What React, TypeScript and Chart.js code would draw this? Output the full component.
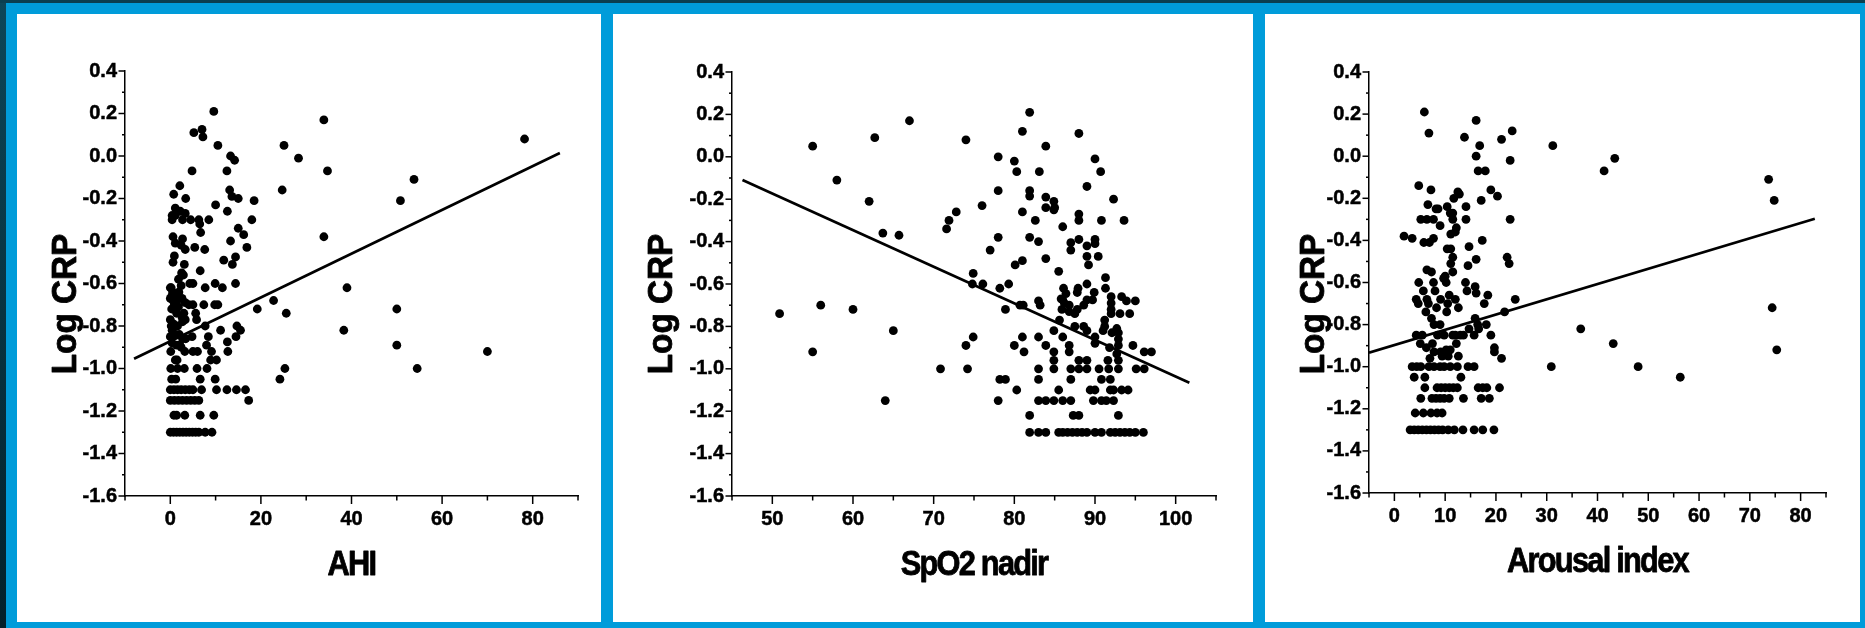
import React, { useEffect, useRef } from "react";
import { Chart, registerables } from "chart.js";

Chart.register(...registerables);

// ---------------- DATA ----------------
const yTitle = "Log CRP";
const yMin = -1.6;
const yMax = 0.4;
const yStep = 0.1;
const yLabelEvery = 0.2;

// Panel 1: AHI vs Log CRP
const ahiTitle = "AHI";
const ahiAxis = { min: -10, max: 90, step: 10, labelEvery: 20 };
const ahiPoints: [number, number][] = [
  [9.6, 0.21], [5.2, 0.11], [7.0, 0.125], [7.2, 0.09], [10.5, 0.05], [13.3, 0.0], [14.2, -0.02],
  [4.8, -0.07], [12.5, -0.07], [33.9, 0.17], [25.1, 0.05], [28.3, -0.01], [34.7, -0.07],
  [78.2, 0.08], [53.8, -0.11], [50.8, -0.21], [24.7, -0.16], [33.9, -0.38], [39.0, -0.62],
  [50.0, -0.72], [38.3, -0.82], [50.0, -0.89], [70.0, -0.92], [54.5, -1.0], [25.3, -1.0],
  [24.2, -1.05], [22.8, -0.68], [25.6, -0.74], [19.2, -0.72], [17.3, -1.15], [16.6, -1.1],
  [14.6, -1.1], [12.5, -1.1], [10.2, -1.1], [6.9, -1.1], [9.6, -1.22], [6.6, -1.22],
  [18.5, -0.21], [18.0, -0.3], [12.6, -0.26], [10.0, -0.23], [13.1, -0.16], [13.6, -0.19],
  [15.0, -0.2], [15.0, -0.34], [16.2, -0.37], [16.9, -0.43], [13.3, -0.4], [14.4, -0.475],
  [13.7, -0.51], [11.8, -0.49], [6.3, -0.3], [6.5, -0.32], [6.7, -0.36], [8.5, -0.3], [4.5, -0.3],
  [5.4, -0.43], [7.6, -0.44], [6.6, -0.54], [4.3, -0.6], [5.0, -0.6], [7.7, -0.62], [9.9, -0.6],
  [11.5, -0.62], [14.4, -0.6], [7.4, -0.7], [9.8, -0.7], [10.5, -0.7], [5.0, -0.7], [5.6, -0.74],
  [5.8, -0.77], [7.7, -0.8], [11.1, -0.82], [14.7, -0.8], [15.5, -0.82], [14.5, -0.85], [8.4, -0.85],
  [8.0, -0.89], [12.6, -0.875], [12.7, -0.92], [4.8, -0.85], [5.0, -0.92], [6.0, -0.92], [9.1, -0.92],
  [8.9, -0.96], [10.2, -0.96], [3.1, -1.0], [5.9, -1.0], [8.1, -1.0], [1.2, -1.05], [6.6, -1.05],
  [9.9, -1.05],
  [2.1, -0.14], [0.75, -0.18], [3.4, -0.2], [1.1, -0.245], [2.2, -0.26], [3.3, -0.27], [0.4, -0.28],
  [1.1, -0.28], [0.4, -0.3], [2.7, -0.3], [0.6, -0.38], [1.1, -0.41], [2.7, -0.39], [2.4, -0.42],
  [3.3, -0.44], [0.9, -0.47], [0.6, -0.5], [3.1, -0.51], [2.5, -0.55], [2.9, -0.56], [1.8, -0.58],
  [2.4, -0.61], [0.2, -0.62], [0.5, -0.64], [0.3, -0.66], [1.1, -0.65], [0.0, -0.67], [1.9, -0.64],
  [2.6, -0.67], [3.3, -0.69], [4.1, -0.7], [0.3, -0.72], [1.4, -0.74], [2.6, -0.76], [3.3, -0.77],
  [0.0, -0.77], [0.2, -0.8], [2.7, -0.78], [0.4, -0.82], [1.1, -0.84], [2.0, -0.84], [2.7, -0.86],
  [3.4, -0.86], [0.4, -0.88], [1.4, -0.89], [2.4, -0.9], [3.2, -0.92], [0.1, -0.92], [1.5, -0.96],
  [1.1, -0.96], [0.1, -1.0], [1.6, -1.0], [0.3, -1.05], [0.9, -0.7], [1.8, -0.71], [0.7, -0.79],
  [1.6, -0.8], [0.0, -0.85], [2.1, -0.89], [0.0, -0.62], [0.6, -0.68], [1.5, -0.68], [3.0, -0.74],
  [0, -1.1], [0.8, -1.1], [1.6, -1.1], [2.4, -1.1], [3.3, -1.1], [4.2, -1.1], [5.0, -1.1],
  [0, -1.15], [0.9, -1.15], [1.8, -1.15], [2.7, -1.15], [3.6, -1.15], [4.5, -1.15], [5.4, -1.15], [6.3, -1.15],
  [0.8, -1.22], [1.4, -1.22], [3.2, -1.22],
  [0, -1.3], [0.7, -1.3], [1.4, -1.3], [2.1, -1.3], [2.8, -1.3], [3.5, -1.3], [4.2, -1.3], [4.9, -1.3],
  [5.6, -1.3], [6.3, -1.3], [7.7, -1.3], [9.2, -1.3],
];
const ahiFit: [number, number][] = [[-8, -0.954], [86, 0.014]];

// Panel 2: SpO2 nadir vs Log CRP
const spo2Title = "SpO2 nadir";
const spo2Axis = { min: 45, max: 105, step: 5, labelEvery: 10 };
const spo2Points: [number, number][] = [
  [55.0, 0.05], [62.7, 0.09], [67.0, 0.17], [58.0, -0.11], [62.0, -0.21], [63.7, -0.36], [65.7, -0.37],
  [50.9, -0.74], [56.0, -0.7], [60.0, -0.72], [65.0, -0.82], [55.0, -0.92], [64.0, -1.15], [70.85, -1.0],
  [74.2, -1.0], [74.0, -0.89], [74.9, -0.85], [74.0, 0.08], [71.6, -0.34], [71.9, -0.3], [72.8, -0.26],
  [74.9, -0.55], [74.8, -0.6], [76.1, -0.6], [76.0, -0.23], [77.0, -0.44], [78.0, 0.0], [78.0, -0.16],
  [78.0, -0.38], [78.2, -0.62], [79.3, -0.6], [78.9, -0.72], [78.2, -1.05], [78.9, -1.05], [78.0, -1.15],
  [80.0, -0.02], [80.3, -0.07], [81.0, 0.12], [81.9, 0.21], [81.9, -0.16], [81.9, -0.185], [81.0, -0.26],
  [82.6, -0.3], [81.9, -0.38], [83.0, -0.4], [83.9, 0.05], [83.1, -0.07], [83.9, -0.19], [83.9, -0.24],
  [84.9, -0.21], [85.0, -0.24], [84.9, -0.25], [86.0, -0.33], [83.9, -0.48], [81.0, -0.49], [80.1, -0.51],
  [80.7, -0.7], [81.1, -0.7], [81.0, -0.85], [80.0, -0.89], [81.2, -0.92], [80.3, -1.1], [81.9, -1.22],
  [83.0, -0.68], [83.2, -0.7], [83.0, -0.85], [83.9, -0.89], [83.0, -1.0], [83.0, -1.05], [84.9, -0.82],
  [84.9, -0.92], [84.9, -0.96], [84.9, -1.0], [85.5, -0.54], [86.1, -0.62], [86.4, -0.645], [85.8, -0.67],
  [86.2, -0.69], [85.6, -0.77], [86.0, -0.85], [85.5, -1.1], [86.0, -1.15],
  [87.0, -0.405], [87.0, -0.44], [88.0, -0.27], [88.0, -0.3], [88.0, -0.39], [88.0, 0.11], [89.0, -0.14],
  [89.0, -0.42], [89.0, -0.47], [89.2, -0.51], [89.0, -0.6], [87.9, -0.62], [87.8, -0.64], [89.9, -0.64],
  [89.7, -0.675], [89.0, -0.675], [88.6, -0.7], [87.5, -0.74], [86.8, -0.7], [86.0, -0.675], [85.9, -0.72],
  [87.5, -0.8], [88.6, -0.8], [89.0, -0.82], [86.8, -0.89], [86.8, -0.92], [87.0, -1.0], [87.0, -1.05],
  [88.0, -0.96], [89.0, -0.96], [88.0, -1.0], [89.0, -1.0], [87.3, -1.22], [88.0, -1.22], [87.0, -1.15],
  [86.8, -0.73], [87.8, -0.72],
  [90.0, -0.01], [90.7, -0.07], [90.8, -0.3], [92.3, -0.2], [93.6, -0.3], [90.0, -0.39], [90.0, -0.41],
  [90.4, -0.47], [91.3, -0.57], [91.3, -0.62], [90.0, -0.85], [90.0, -0.88], [90.5, -1.0], [90.8, -1.05],
  [90.8, -1.15], [89.8, -1.15], [91.2, -0.77], [91.2, -0.8], [91.0, -0.82], [92.0, -0.66], [92.0, -0.69],
  [92.0, -0.72], [92.0, -0.74], [93.3, -0.66], [93.9, -0.68], [95.0, -0.68], [93.1, -0.74], [94.3, -0.74],
  [92.7, -0.81], [92.9, -0.83], [92.9, -0.86], [92.9, -0.89], [92.7, -0.93], [92.1, -0.83], [91.8, -0.9],
  [94.7, -0.89], [96.1, -0.92], [97.0, -0.92], [95.1, -1.0], [96.1, -1.0], [91.7, -1.0], [92.9, -1.0],
  [91.9, -1.05], [91.9, -1.1], [92.3, -1.1], [93.3, -1.1], [94.1, -1.1], [91.4, -1.15], [92.3, -1.15],
  [92.9, -1.22], [92.9, -0.96], [91.6, -0.96],
  [83.0, -1.15], [83.9, -1.15], [84.9, -1.15], [89.4, -1.1], [90.0, -1.1],
  [81.9, -1.3], [83.0, -1.3], [83.9, -1.3], [85.5, -1.3], [86.0, -1.3], [86.6, -1.3], [87.2, -1.3],
  [87.8, -1.3], [88.4, -1.3], [89.0, -1.3], [90.0, -1.3], [90.8, -1.3], [91.9, -1.3], [92.5, -1.3],
  [93.1, -1.3], [93.7, -1.3], [94.3, -1.3], [95.0, -1.3], [96.0, -1.3],
];
const spo2Fit: [number, number][] = [[46.3, -0.109], [101.7, -1.066]];

// Panel 3: Arousal index vs Log CRP
const arousalTitle = "Arousal index";
const arousalAxis = { min: -5, max: 85, step: 5, labelEvery: 10 };
const arousalPoints: [number, number][] = [
  [5.9, 0.21], [6.8, 0.11], [13.8, 0.09], [16.1, 0.17], [16.1, 0.0], [16.8, 0.05], [16.5, -0.07],
  [17.9, -0.07], [21.1, 0.08], [23.2, 0.12], [22.8, -0.02], [31.2, 0.05], [41.3, -0.07], [43.4, -0.01],
  [73.7, -0.11], [74.8, -0.21], [74.4, -0.72], [75.3, -0.92], [36.7, -0.82], [43.1, -0.89], [30.9, -1.0],
  [48.0, -1.0], [56.3, -1.05], [23.8, -0.68], [21.7, -0.74], [22.8, -0.3], [22.2, -0.48], [22.6, -0.51],
  [20.7, -1.1], [21.1, -0.96], [19.7, -0.91], [19.7, -0.93], [19.0, -0.85], [18.1, -0.8], [18.4, -0.66],
  [17.7, -0.7], [19.0, -0.16], [20.3, -0.19], [17.1, -0.21], [17.3, -0.4], [16.1, -0.49], [15.9, -0.62],
  [16.1, -0.65], [15.9, -0.77], [16.4, -0.8], [16.6, -0.82], [15.7, -0.85], [14.7, -0.82], [14.5, -0.52],
  [14.7, -0.43], [14.1, -0.24], [14.1, -0.3], [14.0, -0.6], [14.3, -0.64], [13.6, -0.85], [13.0, -0.85],
  [13.1, -1.05], [13.6, -1.15], [12.5, -0.17], [11.7, -0.2], [12.0, -0.36], [12.2, -0.34], [11.5, -0.27],
  [11.5, -0.3], [11.1, -0.37], [11.1, -0.44], [11.5, -0.48], [11.1, -0.51], [10.4, -0.44], [10.8, -0.66],
  [12.0, -0.68], [12.6, -0.72], [10.0, -0.57], [10.2, -0.6], [10.3, -0.74], [11.5, -0.85], [12.2, -0.89],
  [12.6, -0.95], [10.2, -0.92], [11.0, -0.92], [10.6, -0.95],
  [4.8, -0.14], [7.2, -0.16], [6.6, -0.23], [6.4, -0.3], [5.2, -0.3], [7.7, -0.3], [8.2, -0.25], [8.6, -0.25],
  [9.0, -0.33], [5.8, -0.41], [6.9, -0.41], [7.7, -0.39], [1.9, -0.38], [3.5, -0.39], [6.4, -0.54],
  [7.3, -0.55], [7.7, -0.6], [8.0, -0.64], [5.7, -0.64], [4.8, -0.6], [4.3, -0.68], [4.7, -0.7], [6.4, -0.68],
  [6.7, -0.7], [8.3, -0.72], [9.1, -0.68], [9.7, -0.58], [6.2, -0.74], [7.3, -0.77], [7.8, -0.8], [9.0, -0.8],
  [4.3, -0.85], [5.5, -0.85], [5.1, -0.89], [6.3, -0.91], [7.5, -0.89], [7.8, -0.93], [9.1, -0.93],
  [9.4, -0.95], [7.0, -0.96], [8.5, -0.85], [9.8, -0.85], [12.0, -0.85], [10.5, -0.7], [11.5, -0.55],
  [12.8, -0.18], [10.4, -0.24], [11.0, -0.27],
  [3.5, -1.0], [4.4, -1.0], [5.2, -1.0], [6.8, -1.0], [7.8, -1.0], [9.0, -1.0], [9.8, -1.0], [11.0, -1.0],
  [12.4, -1.0], [14.5, -1.0], [15.7, -1.0],
  [3.9, -1.05], [6.0, -1.05],
  [6.0, -1.1], [8.4, -1.1], [9.2, -1.1], [10.0, -1.1], [10.8, -1.1], [11.6, -1.1], [12.4, -1.1],
  [16.5, -1.1], [17.4, -1.1], [18.2, -1.1],
  [5.2, -1.15], [7.4, -1.15], [8.2, -1.15], [9.0, -1.15], [9.8, -1.15], [10.8, -1.15], [17.1, -1.15], [18.7, -1.15],
  [4.1, -1.22], [5.7, -1.22], [7.2, -1.22], [8.4, -1.22], [9.4, -1.22],
  [3.1, -1.3], [3.9, -1.3], [4.7, -1.3], [5.5, -1.3], [6.3, -1.3], [7.1, -1.3], [7.9, -1.3], [8.7, -1.3],
  [9.5, -1.3], [10.6, -1.3], [11.8, -1.3], [13.5, -1.3], [15.7, -1.3], [17.4, -1.3], [19.6, -1.3],
];
const arousalFit: [number, number][] = [[-5, -0.933], [82.8, -0.297]];

// ---------------- LAYOUT / STYLE ----------------
const PAGE_W = 1865;
const PAGE_H = 628;
const PANEL_TOP = 14;
const PANEL_H = 608;
const FONT = "'Liberation Sans', Arial, Helvetica, sans-serif";

const panelGeo = [
  { left: 17, width: 584, area: { l: 108, t: 57, r: 561, b: 482 } },
  { left: 613, width: 640, area: { l: 119, t: 58, r: 603, b: 482 } },
  { left: 1265, width: 595, area: { l: 104, t: 58, r: 561, b: 479 } },
];

const titleStyle = {
  ySize: 35,
  yScaleX: 0.95,
  yBaselineX: 59,
  yCenterY: 290,
  xSize: 35,
  xScaleX: 0.88,
  xSpacing: -2,
  xBaselineOffset: 79,
  stroke: 0.8,
};

const isMultiple = (v: number, step: number) => {
  const q = v / step;
  return Math.abs(q - Math.round(q)) < 1e-6;
};

const tickMarksPlugin = {
  id: "tickMarks",
  afterDraw(chart: any) {
    const ctx = chart.ctx;
    const { left, bottom } = chart.chartArea;
    ctx.save();
    ctx.strokeStyle = "#000";
    ctx.lineWidth = 1.5;
    const xs = chart.scales.x;
    xs.ticks.forEach((t: any) => {
      const px = xs.getPixelForValue(t.value);
      const major = t.label !== "" && t.label != null;
      ctx.beginPath();
      ctx.moveTo(px, bottom);
      ctx.lineTo(px, bottom + (major ? 8 : 4.5));
      ctx.stroke();
    });
    const ys = chart.scales.y;
    ys.ticks.forEach((t: any) => {
      const py = ys.getPixelForValue(t.value);
      const major = t.label !== "" && t.label != null;
      ctx.beginPath();
      ctx.moveTo(left, py);
      ctx.lineTo(left - (major ? 6.5 : 3), py);
      ctx.stroke();
    });
    ctx.restore();
  },
};

const axisTitlesPlugin = {
  id: "axisTitles",
  afterDraw(chart: any, _args: any, opts: any) {
    const ctx = chart.ctx;
    const { left, right, bottom } = chart.chartArea;
    ctx.save();
    ctx.fillStyle = "#000";
    ctx.strokeStyle = "#000";
    ctx.lineJoin = "round";
    ctx.lineWidth = opts.stroke;
    ctx.textAlign = "center";
    ctx.textBaseline = "alphabetic";
    // y title (rotated)
    ctx.save();
    ctx.translate(opts.yBaselineX, opts.yCenterY);
    ctx.rotate(-Math.PI / 2);
    ctx.scale(opts.yScaleX, 1);
    ctx.font = `bold ${opts.ySize}px ${FONT}`;
    ctx.fillText(opts.yText, 0, 0);
    ctx.strokeText(opts.yText, 0, 0);
    ctx.restore();
    // x title
    ctx.save();
    ctx.translate((left + right) / 2, bottom + opts.xBaselineOffset);
    ctx.scale(opts.xScaleX, 1);
    ctx.font = `bold ${opts.xSize}px ${FONT}`;
    (ctx as any).letterSpacing = `${opts.xSpacing}px`;
    ctx.fillText(opts.xText, 0, 0);
    ctx.strokeText(opts.xText, 0, 0);
    ctx.restore();
    ctx.restore();
  },
};

type AxisDef = { min: number; max: number; step: number; labelEvery: number };

function fmtY(v: number) {
  const r = Math.round(v * 10) / 10;
  return (r === 0 ? 0 : r).toFixed(1);
}

function ScatterPanel(props: {
  points: [number, number][];
  fit: [number, number][];
  axis: AxisDef;
  xTitle: string;
  geo: { left: number; width: number; area: { l: number; t: number; r: number; b: number } };
}) {
  const ref = useRef<HTMLCanvasElement | null>(null);
  const { points, fit, axis, xTitle, geo } = props;

  useEffect(() => {
    if (!ref.current) return;
    const yScaleW = 70;
    const xScaleH = 50;
    const padLeft = geo.area.l - yScaleW;
    const padRight = geo.width - geo.area.r;
    const padTop = geo.area.t;
    const padBottom = PANEL_H - geo.area.b - xScaleH;
    const tickFont = { family: FONT, size: 20, weight: "bold" };

    const chart = new Chart(ref.current, {
      type: "scatter",
      data: {
        datasets: [
          {
            data: points.map(([x, y]) => ({ x, y })),
            backgroundColor: "#000",
            borderWidth: 0,
            pointRadius: 4.4,
            pointHoverRadius: 4.4,
            showLine: false,
          },
          {
            data: fit.map(([x, y]) => ({ x, y })),
            showLine: true,
            borderColor: "#000",
            borderWidth: 2.7,
            pointRadius: 0,
            pointHoverRadius: 0,
            fill: false,
          } as any,
        ],
      },
      plugins: [tickMarksPlugin, axisTitlesPlugin],
      options: {
        animation: false,
        responsive: false,
        maintainAspectRatio: false,
        events: [],
        layout: { padding: { left: padLeft, right: padRight, top: padTop, bottom: padBottom } },
        plugins: {
          legend: { display: false },
          tooltip: { enabled: false },
          axisTitles: { ...titleStyle, yText: yTitle, xText: xTitle },
        } as any,
        scales: {
          x: {
            type: "linear",
            min: axis.min,
            max: axis.max,
            afterFit: (s: any) => {
              s.height = xScaleH;
            },
            grid: { display: false, drawTicks: false },
            border: { display: true, color: "#000", width: 1.5 },
            ticks: {
              stepSize: axis.step,
              autoSkip: false,
              maxRotation: 0,
              padding: 11,
              color: "#000",
              textStrokeColor: "#000",
              textStrokeWidth: 0.5,
              font: tickFont,
              callback: (v: any) => (isMultiple(Number(v), axis.labelEvery) ? String(Math.round(Number(v))) : ""),
            },
          },
          y: {
            type: "linear",
            min: yMin,
            max: yMax,
            afterFit: (s: any) => {
              s.width = yScaleW;
            },
            grid: { display: false, drawTicks: false },
            border: { display: true, color: "#000", width: 1.5 },
            ticks: {
              stepSize: yStep,
              autoSkip: false,
              padding: 8,
              color: "#000",
              textStrokeColor: "#000",
              textStrokeWidth: 0.5,
              font: tickFont,
              callback: (v: any) => (isMultiple(Number(v), yLabelEvery) ? fmtY(Number(v)) : ""),
            },
          },
        },
      } as any,
    });
    return () => chart.destroy();
  }, []);

  return (
    <canvas
      ref={ref}
      width={geo.width}
      height={PANEL_H}
      style={{
        position: "absolute",
        left: geo.left,
        top: PANEL_TOP,
        width: geo.width,
        height: PANEL_H,
        background: "#fff",
        display: "block",
      }}
    />
  );
}

export default function App() {
  return (
    <div
      style={{
        position: "absolute",
        left: 0,
        top: 0,
        width: PAGE_W,
        height: PAGE_H,
        background: "#009cda",
        overflow: "hidden",
      }}
    >
      <div
        style={{
          position: "absolute",
          left: 0,
          top: 0,
          width: 6,
          height: PAGE_H,
          background: "linear-gradient(#0d4658, #03202a)",
        }}
      />
      <div
        style={{ position: "absolute", left: 0, top: 0, width: PAGE_W, height: 3, background: "#0b3f50" }}
      />
      <ScatterPanel points={ahiPoints} fit={ahiFit} axis={ahiAxis} xTitle={ahiTitle} geo={panelGeo[0]} />
      <ScatterPanel points={spo2Points} fit={spo2Fit} axis={spo2Axis} xTitle={spo2Title} geo={panelGeo[1]} />
      <ScatterPanel
        points={arousalPoints}
        fit={arousalFit}
        axis={arousalAxis}
        xTitle={arousalTitle}
        geo={panelGeo[2]}
      />
    </div>
  );
}
